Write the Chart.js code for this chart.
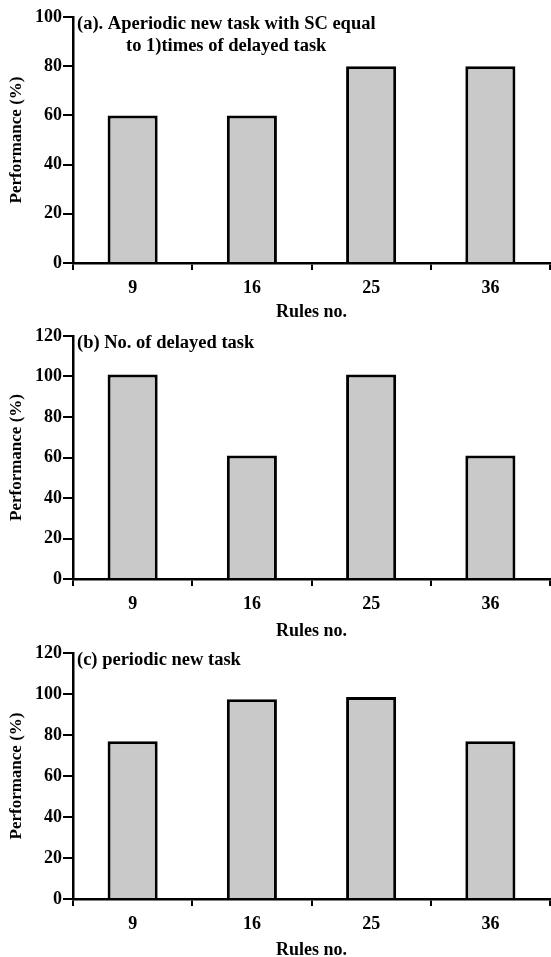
<!DOCTYPE html>
<html>
<head>
<meta charset="utf-8">
<script src="https://cdn.jsdelivr.net/npm/chart.js@4"></script>
<style>
    body { margin: 0; background: #fff; }
    .panel { position: relative; width: 551px; height: 319px; }
</style>
</head>
<body>
<div class="panel"><canvas id="chartA"></canvas></div>
<div class="panel"><canvas id="chartB"></canvas></div>
<div class="panel"><canvas id="chartC"></canvas></div>
<script>
const rules = ["9", "16", "25", "36"];

const aperiodicValues = [60, 60, 80, 80];
const delayedValues = [101, 61, 101, 61];
const periodicValues = [77, 97.5, 98.5, 77];

const aperiodicTitle = ["(a). Aperiodic new task with SC equal", "to 1)times of delayed task"];
const delayedTitle = ["(b) No. of delayed task"];
const periodicTitle = ["(c) periodic new task"];

const yTitle = "Performance (%)";
const xTitle = "Rules no.";

const FONT = "'Liberation Serif', 'Times New Roman', serif";

// draws the panel caption inside the plot, next to the y axis
const captionPlugin = {
    id: "caption",
    afterDraw(chart) {
        const lines = chart.options.plugins.caption.lines;
        const ctx = chart.ctx;
        const area = chart.chartArea;
        ctx.save();
        ctx.fillStyle = "#000";
        ctx.font = "bold 18.5px " + FONT;
        ctx.textBaseline = "middle";
        ctx.textAlign = "left";
        lines.forEach((line, i) => {
            const x = i === 0 ? area.left + 4 : area.left + 53;
            ctx.fillText(line, x, area.top + 7 + i * 22);
        });
        ctx.restore();
    }
};

function makeChart(id, values, max, caption, top, bottomBox) {
    return new Chart(document.getElementById(id), {
        type: "bar",
        data: {
            labels: rules,
            datasets: [{
                data: values,
                backgroundColor: "#c9c9c9",
                borderColor: "#000",
                borderWidth: 3,
                barPercentage: 0.42,
                categoryPercentage: 1
            }]
        },
        options: {
            responsive: true,
            maintainAspectRatio: false,
            animation: false,
            layout: { padding: { top: top, right: 1, left: 0, bottom: 0 } },
            plugins: {
                legend: { display: false },
                tooltip: { enabled: false },
                caption: { lines: caption }
            },
            scales: {
                x: {
                    afterFit: (scale) => { scale.height = bottomBox; },
                    grid: {
                        offset: true,
                        drawOnChartArea: false,
                        drawTicks: true,
                        tickLength: 7,
                        color: "#000",
                        lineWidth: 2
                    },
                    border: { display: true, color: "#000", width: 2.5 },
                    ticks: {
                        color: "#000",
                        padding: 8,
                        font: { family: FONT, size: 18, weight: "bold" }
                    },
                    title: {
                        display: true,
                        text: xTitle,
                        color: "#000",
                        padding: { top: 0, bottom: -4 },
                        font: { family: FONT, size: 18, weight: "bold" }
                    }
                },
                y: {
                    min: 0,
                    max: max,
                    afterFit: (scale) => { scale.width = 73; },
                    grid: {
                        drawOnChartArea: false,
                        drawTicks: true,
                        tickLength: 10,
                        color: "#000",
                        lineWidth: 2
                    },
                    border: { display: true, color: "#000", width: 2.5 },
                    ticks: {
                        stepSize: 20,
                        color: "#000",
                        padding: 1,
                        font: { family: FONT, size: 18, weight: "bold" }
                    },
                    title: {
                        display: true,
                        text: yTitle,
                        color: "#000",
                        padding: { top: 6, bottom: 0 },
                        font: { family: FONT, size: 17, weight: "bold" }
                    }
                }
            }
        },
        plugins: [captionPlugin]
    });
}

makeChart("chartA", aperiodicValues, 100, aperiodicTitle, 17, 56);
makeChart("chartB", delayedValues, 120, delayedTitle, 17, 59);
makeChart("chartC", periodicValues, 120, periodicTitle, 15, 58);
</script>
</body>
</html>
